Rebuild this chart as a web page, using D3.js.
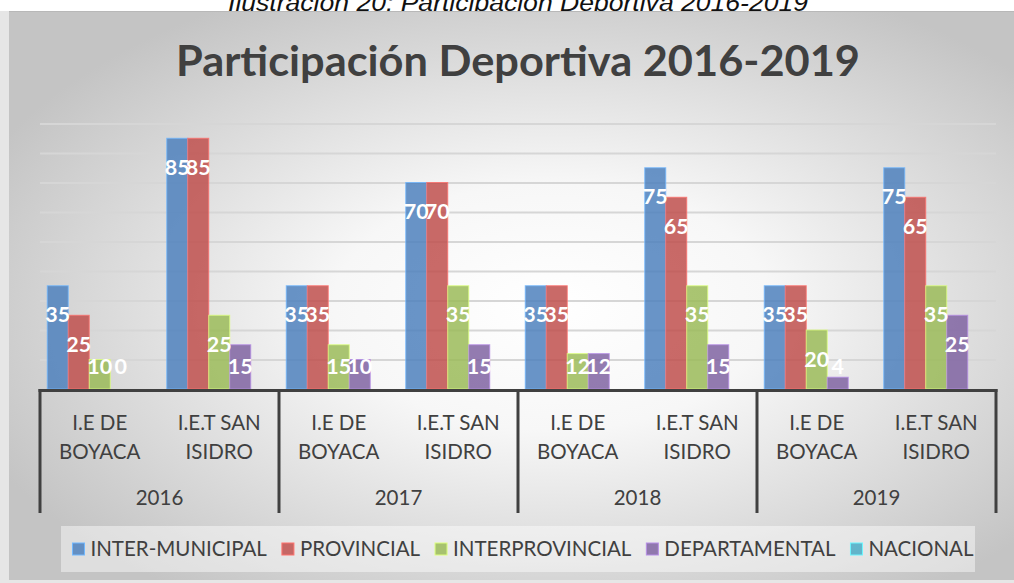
<!DOCTYPE html>
<html>
<head>
<meta charset="utf-8">
<script src="https://cdn.jsdelivr.net/npm/d3@7"></script>
<style>
  html, body { margin: 0; padding: 0; background: #fff; }
  svg { display: block; }
</style>
</head>
<body>
<div id="chart"></div>
<script>
// datos
const years = ["2016", "2017", "2018", "2019"];
const institutions = ["I.E DE BOYACA", "I.E.T SAN ISIDRO"];
const institutionLines = [["I.E DE", "BOYACA"], ["I.E.T SAN", "ISIDRO"]];
const seriesNames = ["INTER-MUNICIPAL", "PROVINCIAL", "INTERPROVINCIAL", "DEPARTAMENTAL", "NACIONAL"];
const seriesColors = ["#4F81BD", "#C0504D", "#9BBB59", "#8064A2", "#4BACC6"];

// one value per (year, institution), in order 2016 BOY, 2016 SI, 2017 BOY, ...
const interMunicipal  = [35, 85, 35, 70, 35, 75, 35, 75];
const provincial      = [25, 85, 35, 70, 35, 65, 35, 65];
const interprovincial = [10, 25, 15, 35, 12, 35, 20, 35];
const departamental   = [0, 15, 10, 15, 12, 15, 4, 25];
const nacional        = [null, null, null, null, null, null, null, null];
const yTicks = [10, 20, 30, 40, 50, 60, 70, 80, 90];

const allSeries = [interMunicipal, provincial, interprovincial, departamental, nacional];

const width = 1014, height = 583;
const plot = { left: 40, right: 996, top: 123.5, bottom: 389 };

const svg = d3.select("#chart").append("svg")
  .attr("width", width)
  .attr("height", height);

const defs = svg.append("defs");
const bg = defs.append("radialGradient").attr("id", "bg")
  .attr("cx", "54%").attr("cy", "52%").attr("r", "62%");
bg.append("stop").attr("offset", "0%").attr("stop-color", "#ffffff");
bg.append("stop").attr("offset", "35%").attr("stop-color", "#f7f7f7");
bg.append("stop").attr("offset", "100%").attr("stop-color", "#c4c4c4");

const gridGrad = defs.append("linearGradient").attr("id", "gridGrad")
  .attr("gradientUnits", "userSpaceOnUse")
  .attr("x1", 0).attr("x2", 0).attr("y1", plot.top).attr("y2", plot.bottom);
gridGrad.append("stop").attr("offset", "0%").attr("stop-color", "#d6d6d6");
gridGrad.append("stop").attr("offset", "100%").attr("stop-color", "#9c9c9c");

// caption above the chart (mostly cut off)
svg.append("text")
  .attr("x", 518).attr("y", 10.5)
  .attr("text-anchor", "middle")
  .attr("font-family", "Liberation Sans, Arial, sans-serif")
  .attr("font-style", "italic")
  .attr("font-size", 23)
  .attr("fill", "#111")
  .attr("textLength", 580)
  .attr("lengthAdjust", "spacingAndGlyphs")
  .text("Ilustración 20: Participación Deportiva 2016-2019");

// chart area
svg.append("rect").attr("x", 0).attr("y", 11).attr("width", 9).attr("height", height - 11)
  .attr("fill", "#e6e6e6");
svg.append("rect").attr("x", 9).attr("y", 11).attr("width", width - 9).attr("height", 569)
  .attr("fill", "url(#bg)");
svg.append("rect").attr("x", 0).attr("y", 580).attr("width", width).attr("height", 3)
  .attr("fill", "#e6e6e6");
svg.append("line").attr("x1", 9).attr("x2", width).attr("y1", 11.5).attr("y2", 11.5)
  .attr("stroke", "#b8b8b8").attr("stroke-width", 1);

// title
svg.append("text")
  .attr("x", 518).attr("y", 76)
  .attr("text-anchor", "middle")
  .attr("font-family", "Lato, sans-serif")
  .attr("font-weight", "bold")
  .attr("font-size", 42)
  .attr("fill", "#404040")
  .attr("textLength", 684)
  .attr("lengthAdjust", "spacingAndGlyphs")
  .text("Participación Deportiva 2016-2019");

// scales
const x0 = d3.scaleBand().domain(years).range([plot.left, plot.right]);
const x1 = d3.scaleBand().domain(institutions).range([0, x0.bandwidth()]);
const x2 = d3.scaleBand().domain(seriesNames).range([0, x1.bandwidth()])
  .paddingInner(0).paddingOuter(0.345);
const y = d3.scaleLinear().domain([0, 90]).range([plot.bottom, plot.top]);

// gridlines
const grid = svg.append("g")
  .attr("transform", `translate(${plot.left},0)`)
  .call(d3.axisLeft(y).tickValues(yTicks).tickSize(-(plot.right - plot.left)).tickFormat(""));
grid.select(".domain").remove();
grid.selectAll(".tick line").attr("stroke", "url(#gridGrad)").attr("stroke-width", 2);

// flatten data
const rows = [];
years.forEach((yr, i) => {
  institutions.forEach((inst, j) => {
    const idx = i * institutions.length + j;
    seriesNames.forEach((s, k) => {
      rows.push({ year: yr, inst: inst, series: s, color: seriesColors[k], value: allSeries[k][idx] });
    });
  });
});
const barX = d => x0(d.year) + x1(d.inst) + x2(d.series);

const bars = svg.append("g");
bars.selectAll("rect")
  .data(rows.filter(d => d.value != null && d.value > 0))
  .join("rect")
  .attr("x", d => barX(d))
  .attr("y", d => y(d.value))
  .attr("width", x2.bandwidth())
  .attr("height", d => y(0) - y(d.value))
  .attr("fill", d => d.color)
  .attr("fill-opacity", 0.85)
  .attr("stroke", d => d3.color(d.color).brighter(1).formatHex())
  .attr("stroke-opacity", 0.8)
  .attr("stroke-width", 1);

// value labels
bars.selectAll("text")
  .data(rows.filter(d => d.value != null))
  .join("text")
  .attr("x", d => barX(d) + x2.bandwidth() / 2)
  .attr("y", d => Math.min(y(d.value) + 36.5, y(0) - 15.5))
  .attr("text-anchor", "middle")
  .attr("font-family", "Lato, sans-serif")
  .attr("font-weight", "bold")
  .attr("font-size", 21.5)
  .attr("fill", "#ffffff")
  .text(d => d.value);

// multi-level category axis
const axis = svg.append("g").attr("stroke", "#404040").attr("stroke-width", 3);
axis.append("line")
  .attr("x1", plot.left - 1.5).attr("x2", plot.right + 1.5)
  .attr("y1", plot.bottom + 1.5).attr("y2", plot.bottom + 1.5);
const bounds = years.map(yr => x0(yr)).concat([plot.right]);
axis.selectAll("line.sep")
  .data(bounds)
  .join("line")
  .attr("class", "sep")
  .attr("x1", d => d).attr("x2", d => d)
  .attr("y1", plot.bottom).attr("y2", 513);

const labels = svg.append("g")
  .attr("font-family", "Lato, sans-serif")
  .attr("font-size", 20.5)
  .attr("fill", "#404040")
  .attr("text-anchor", "middle");

years.forEach(yr => {
  institutions.forEach((inst, j) => {
    const cx = x0(yr) + x1(inst) + x1.bandwidth() / 2;
    const t = labels.append("text").attr("x", cx).attr("y", 429.5);
    institutionLines[j].forEach((ln, li) => {
      t.append("tspan").attr("x", cx).attr("dy", li === 0 ? 0 : 29.7).text(ln);
    });
  });
  labels.append("text")
    .attr("x", x0(yr) + x0.bandwidth() / 2)
    .attr("y", 505)
    .text(yr);
});

// legend
const legendBox = { x: 61, y: 526, w: 914, h: 46 };
svg.append("rect")
  .attr("x", legendBox.x).attr("y", legendBox.y)
  .attr("width", legendBox.w).attr("height", legendBox.h)
  .attr("fill", "#ffffff").attr("fill-opacity", 0.45);

const legend = svg.append("g")
  .attr("font-family", "Lato, sans-serif")
  .attr("font-size", 20.5)
  .attr("fill", "#404040");
const items = legend.selectAll("g").data(seriesNames).join("g");
items.append("rect")
  .attr("width", 12).attr("height", 12)
  .attr("y", 543)
  .attr("fill", (d, i) => seriesColors[i])
  .attr("fill-opacity", 0.85)
  .attr("stroke", (d, i) => d3.color(seriesColors[i]).brighter(1).formatHex())
  .attr("stroke-width", 1);
items.append("text")
  .attr("x", 18).attr("y", 556)
  .text(d => d);

const widths = [];
items.each(function () {
  widths.push(18 + d3.select(this).select("text").node().getComputedTextLength());
});
const gap = 15;
const total = d3.sum(widths) + gap * (widths.length - 1);
let cur = legendBox.x + legendBox.w / 2 - total / 2 + 5;
items.attr("transform", (d, i) => {
  const tx = cur;
  cur += widths[i] + gap;
  return `translate(${tx},0)`;
});
</script>
</body>
</html>
